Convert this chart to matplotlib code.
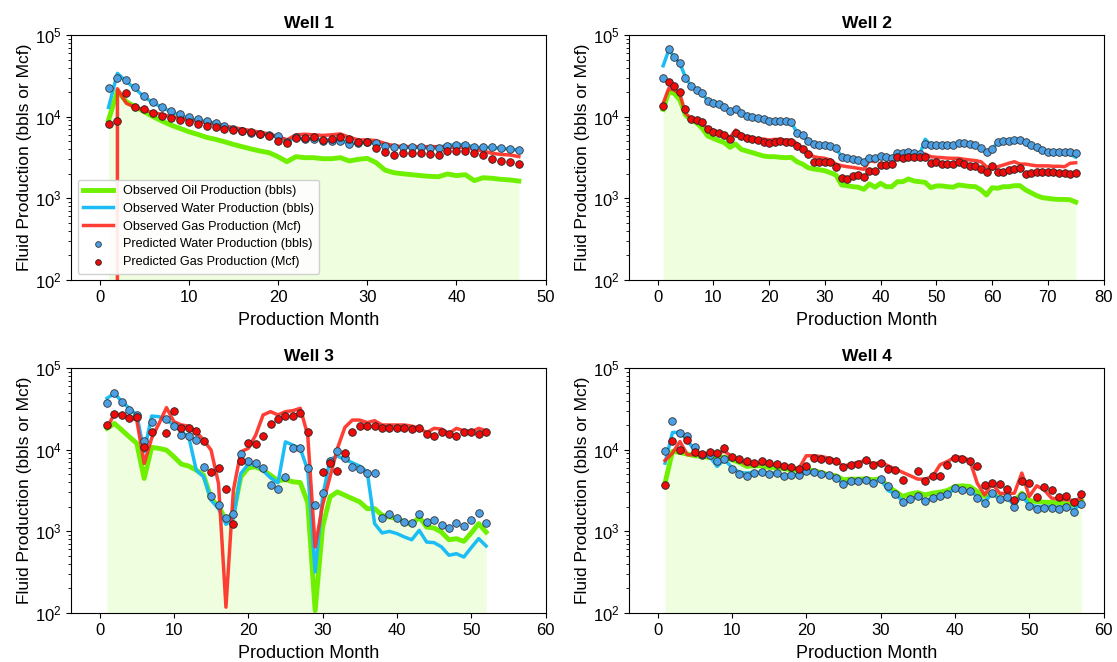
import numpy as np
import matplotlib
matplotlib.use('Agg')
import matplotlib.pyplot as plt

plt.rcParams['font.family'] = ['Liberation Sans', 'DejaVu Sans']
plt.rcParams['mathtext.fontset'] = 'custom'
plt.rcParams['mathtext.rm'] = 'Liberation Sans'
plt.rcParams['mathtext.it'] = 'Liberation Sans:italic'
plt.rcParams['mathtext.bf'] = 'Liberation Sans:bold'

nan = np.nan

# ---- Well 1 ----
w1_oil = [9100, 20600, 15300, 13250, 11500, 10000, 8850, 7900, 7200, 6550,
          6080, 5590, 5280, 4940, 4580, 4290, 4020, 3800, 3630, 3240,
          2810, 3240, 3150, 3150, 3060, 3060, 3150, 2870, 3010, 3090,
          2740, 2220, 2060, 2000, 1950, 1900, 1860, 1840, 1990, 1900,
          1950, 1650, 1790, 1760, 1710, 1680, 1630]
w1_water = [13000, 34000, 27000, 22000, 17500, 14800, 13000, 11500, 10500, 9500,
            9100, 8700, 8300, 7700, 7200, 6900, 6550, 6250, 6000, 5700,
            5200, 5400, 5350, 5350, 5200, 5200, 5100, 4700, 4800, 4800,
            4700, 4500, 4400, 4200, 4200, 4200, 4200, 4200, 4500, 4500,
            4600, 4200, 4200, 4200, 4100, 4000, 3900]
w1_gas = [0, 22000, 14600, 13000, 12100, 11200, 10700, 10000, 9700, 9100,
          8800, 8400, 8100, 7700, 7350, 7050, 6750, 6450, 6150, 5700,
          5200, 6000, 6100, 6000, 5900, 6000, 6150, 5600, 5200, 5200,
          5100, 4700, 4400, 4300, 4300, 4300, 4300, 4300, 4200, 4200,
          4200, 4000, 3800, 3560, 3450, 3400, 3250]
w1_water_pred = [22500, 30000, 28000, 22800, 17700, 15300, 13000, 11800, 10800, 9900,
                 9300, 8900, 8450, 7700, 7100, 6700, 6400, 6150, 5900, 5800,
                 4950, 5600, 5400, 5300, 5100, 5100, 5000, 4600, 4800, 4900,
                 4700, 4400, 4300, 4200, 4200, 4200, 4150, 4150, 4400, 4450,
                 4500, 4200, 4200, 4200, 4100, 4050, 3900]
w1_gas_pred = [8050, 8900, 19300, 13000, 12300, 11000, 10300, 9550, 9100, 8500,
               8100, 7750, 7400, 7050, 6900, 6700, 6450, 6150, 5850, 5000,
               4800, 5500, 5500, 5600, 5200, 5300, 5700, 5350, 4950, 4950,
               4100, 3650, 3400, 3550, 3550, 3550, 3450, 3400, 3850, 3850,
               3800, 3550, 3400, 3050, 2900, 2750, 2600]

# ---- Well 2 ----
w2_oil = [12300, 20200, 19300, 16000, 10500, 9100, 8450, 7200, 5800, 5430,
          5080, 4800, 4210, 4630, 3980, 3800, 3630, 3460, 3300, 3240,
          3240, 3180, 3150, 3180, 2810, 2630, 2370, 2290, 2240, 2180,
          2060, 1930, 1460, 1430, 1390, 1370, 1290, 1500, 1370, 1530,
          1390, 1390, 1600, 1600, 1730, 1630, 1600, 1570, 1350, 1420,
          1420, 1390, 1370, 1460, 1430, 1400, 1390, 1270, 1100, 1350,
          1330, 1390, 1390, 1430, 1430, 1270, 1170, 1080, 1020, 1000,
          980, 970, 970, 960, 900]
w2_water = [42100, 65500, 54300, 45000, 30500, 23700, 21200, 19300, 15700, 14800,
            14200, 13000, 11800, 12600, 11000, 10200, 9800, 9550, 9270, 8930,
            8930, 8930, 8850, 8500, 6400, 5900, 5100, 4700, 4600, 4500,
            4400, 4100, 3250, 3100, 3050, 2950, 2850, 3200, 3100, 3300,
            3250, 3150, 3500, 3500, 3600, 3500, 3400, 5300, 4500, 4500,
            4500, 4450, 4500, 4700, 4700, 4600, 4500, 4100, 3600, 4000,
            4850, 5000, 5050, 5100, 5100, 4700, 4300, 4000, 3700, 3600,
            3550, 3500, 3500, 3450, 3200]
w2_gas = [14600, 22200, 21200, 18900, 11000, 9550, 8930, 8130, 7200, 6740,
          6370, 5960, 5590, 6870, 5960, 5690, 5530, 5330, 5330, 5180,
          5280, 5280, 5180, 5180, 4710, 4090, 3660, 3240, 3150, 3090,
          2950, 2630, 2510, 2440, 2390, 2330, 2270, 2900, 2810, 3240,
          3240, 3180, 3390, 3390, 3460, 3460, 3490, 3490, 3240, 3180,
          3150, 3110, 3090, 3090, 3010, 2950, 2900, 2810, 2440, 2270,
          2440, 2560, 2690, 2810, 2630, 2630, 2560, 2500, 2500, 2500,
          2470, 2470, 2440, 2690, 2730]
w2_water_pred = [29500, 67500, 54300, 45000, 29500, 23700, 21200, 19300, 15700, 14800,
                 14200, 13000, 11800, 12600, 11000, 10200, 9800, 9550, 9270, 8930,
                 8930, 8930, 8850, 8700, 6250, 5960, 5080, 4630, 4540, 4500,
                 4410, 4090, 3240, 3090, 3030, 2950, 2810, 3150, 3090, 3300,
                 3240, 3150, 3560, 3560, 3730, 3630, 3490, 4630, 4500, 4500,
                 4500, 4500, 4500, 4710, 4710, 4630, 4500, 4090, 3660, 4020,
                 4850, 5040, 5080, 5180, 5180, 4850, 4500, 4210, 3910, 3730,
                 3730, 3730, 3730, 3700, 3630]
w2_gas_pred = [13500, 26800, 23700, 20200, 12300, 9270, 9100, 8600, 7000, 6550,
               6250, 5960, 5330, 6250, 5800, 5530, 5330, 5180, 4940, 4800,
               4940, 5040, 4940, 4940, 4380, 3980, 3490, 2810, 2810, 2760,
               2760, 2390, 1780, 1740, 1900, 1930, 1810, 2180, 2180, 2560,
               2560, 2630, 3240, 3150, 3240, 3180, 3180, 3240, 2730, 2810,
               2630, 2610, 2610, 2760, 2610, 2500, 2510, 2270, 2100, 2510,
               2110, 2080, 2220, 2290, 2370, 1970, 2060, 2080, 2100, 2080,
               2080, 2060, 2020, 2000, 2060]

# ---- Well 3 ----
w3_oil = [18300, 21000, 17400, 14400, 12000, 4450, 10700, 10400, 9900, 8200,
          6670, 6300, 5630, 4890, 2520, 2050, 1370, 1650, 4660, 6010,
          6180, 5630, 4890, 4160, 4320, 4050, 3970, 2250, 107, 1130,
          2650, 3050, 2770, 2520, 2300, 1900, 1900, 1580, 1500, 1440,
          1310, 1210, 1500, 1130, 1100, 980, 790, 815, 755, 957,
          1245, 980]
w3_water = [42700, 49200, 38800, 32200, 26700, 9450, 25900, 25400, 23100, 20100,
            16600, 14400, 5630, 4660, 2410, 1900, 1220, 1440, 5120, 6670,
            6480, 5530, 4530, 3940, 12500, 11400, 10400, 5630, 318, 2650,
            7610, 8370, 7610, 6920, 6300, 5370, 1245, 957, 1000, 940,
            855, 790, 1030, 740, 728, 645, 510, 533, 485, 632,
            815, 662]
w3_gas = [18800, 27400, 26700, 24700, 23100, 6800, 13800, 21000, 32800, 22100,
          20100, 19500, 16600, 13100, 9900, 3870, 118, 3200, 9450, 10400,
          15100, 26700, 29300, 26700, 29300, 30100, 32200, 15100, 645, 2090,
          4660, 10400, 18800, 23100, 23100, 21500, 22700, 20100, 20100, 20100,
          20100, 19500, 18300, 16200, 18300, 17900, 15800, 18300, 17100, 16600,
          18300, 17100]
w3_water_pred = [37700, 49200, 38400, 30700, 26700, 12900, 22100, nan, 23800, 19500,
                 15100, 14900, 13100, 6070, 2720, 2090, 1460, 1620, 8850, 7330,
                 6800, 6010, 3680, 3350, 4660, 10400, 10600, 6010, 2090, 2990,
                 7330, 9720, 7980, 6180, 5730, 5120, 5220, 1475, 1650, 1460,
                 1310, 1280, 1650, 1310, 1370, 1190, 1100, 1270, 1170, 1390,
                 1680, 1280]
w3_gas_pred = [19900, 27200, 26400, 24500, 25000, 10700, 16300, nan, 15900, 29900,
               18600, 18600, 17100, 12900, 5270, 5900, 3260, 1245, 7330, 12000,
               11600, 14700, 20500, 23600, 25900, 25900, 27900, 16600, nan, 5270,
               6920, 5530, 9190, 16600, 19700, 19500, 19500, 18600, 18300, 18300,
               18300, 17800, 18300, 15400, 14700, 16600, 15600, 14700, 16600, 16300,
               15400, 16600]

# ---- Well 4 ----
w4_oil = [3900, 9550, 9270, 8850, 8440, 8280, 8050, 8130, 8130, 7540,
          7000, 6250, 6370, 6370, 6070, 6070, 5850, 5690, 5580, 5790,
          5520, 5270, 4930, 4800, 4290, 4370, 4370, 4410, 4290, 4410,
          3550, 3080, 2680, 2880, 2990, 2800, 2940, 3030, 3170, 3550,
          3620, 3550, 3080, 2680, 2990, 2550, 2550, 2320, 2940, 2390,
          2320, 2280, 2260, 2220, 2170, 2110, 2440]
w4_water = [6860, 16300, 16300, 13300, 9550, 8690, 8280, 6250, 7540, 6070,
            5270, 5180, 5270, 5270, 5180, 5180, 4710, 4930, 4930, 5320,
            5180, 5080, 4840, 4490, 3830, 4090, 4090, 4290, 3970, 4370,
            3170, 2880, 2320, 2480, 2680, 2390, 2550, 2730, 2880, 3320,
            3230, 3140, 2680, 2280, 2940, 2480, 2550, 2110, 2730, 2110,
            2020, 2020, 2020, 1980, 2020, 1840, 2220]
w4_gas = [7400, 9100, 12600, 8690, 8690, 8690, 9100, 9100, 9550, 8280,
          7400, 6550, 6720, 6720, 6720, 6370, 6070, 5960, 5850, 8440,
          8440, 8280, 7900, 7400, 6250, 6720, 7000, 7400, 6720, 7000,
          6370, 5790, 5270, 4800, 4370, 4370, 4710, 6550, 7190, 8130,
          8130, 7400, 3900, 2800, 3900, 2940, 2880, 2940, 5180, 2680,
          3620, 3230, 2550, 2480, 2440, 2390, 2550]
w4_water_pred = [9730, 22700, 16000, 14600, 10800, 8690, 8690, 7330, 7680, 5850,
                 5080, 4800, 5180, 5320, 5080, 5180, 4710, 4930, 4930, 5420,
                 5270, 5080, 4840, 4490, 3790, 4090, 4090, 4290, 3970, 4370,
                 3550, 2880, 2280, 2500, 2680, 2370, 2600, 2730, 2880, 3390,
                 3230, 3140, 2550, 2220, 2990, 2480, 2630, 1980, 2730, 2020,
                 1890, 1960, 1960, 1870, 1980, 1750, 2170]
w4_gas_pred = [3650, 12900, 10000, 13000, 9360, 8850, 9360, 9100, 10500, 8050,
               7760, 7190, 6860, 7190, 6860, 6670, 6370, 6130, 5850, 6250,
               7900, 7760, 7400, 7330, 6070, 6420, 6720, 7400, 6420, 6860,
               5850, 5690, 4290, nan, 5520, 4090, 4710, 4800, 6550, 7900,
               7760, 7330, 6370, 3650, 3970, 3790, 3320, 2390, 4170, 3900,
               2630, 3450, 3230, 2630, 2750, 2280, 2860]

wells = ['Well 1', 'Well 2', 'Well 3', 'Well 4']
oil = [w1_oil, w2_oil, w3_oil, w4_oil]
water = [w1_water, w2_water, w3_water, w4_water]
gas = [w1_gas, w2_gas, w3_gas, w4_gas]
water_pred = [w1_water_pred, w2_water_pred, w3_water_pred, w4_water_pred]
gas_pred = [w1_gas_pred, w2_gas_pred, w3_gas_pred, w4_gas_pred]
x_max = [50, 80, 60, 60]

fig, axes = plt.subplots(2, 2, figsize=(11.17, 6.62), dpi=100)
fig.subplots_adjust(left=0.064, right=0.988, top=0.947, bottom=0.074,
                    wspace=0.177, hspace=0.36)

for i, ax in enumerate(axes.flat):
    months = np.arange(1, len(oil[i]) + 1)
    ax.fill_between(months, oil[i], 0.01, color='#7CFC00', alpha=0.13, linewidth=0)
    ax.plot(months, oil[i], color='#6EF000', lw=3.5, label='Observed Oil Production (bbls)')
    ax.plot(months, water[i], color='#1CBDF5', lw=2.5, label='Observed Water Production (bbls)')
    ax.plot(months, gas[i], color='#FF2A20', lw=2.5, alpha=0.9, label='Observed Gas Production (Mcf)')
    ax.scatter(months, water_pred[i], s=30, color='#4A9FE5', edgecolor='#333333',
               linewidth=0.6, zorder=3, label='Predicted Water Production (bbls)')
    ax.scatter(months, gas_pred[i], s=30, color='#F00A0A', edgecolor='#222222',
               linewidth=0.6, zorder=3, label='Predicted Gas Production (Mcf)')

    ax.set_yscale('log')
    ax.set_ylim(1e2, 1e5)
    ax.set_xlim(-0.063 * x_max[i], x_max[i])
    ax.set_xticks(np.arange(0, x_max[i] + 1, 10))
    ax.set_title(wells[i], fontsize=12.5, fontweight='bold', pad=5)
    ax.set_xlabel('Production Month', fontsize=13, labelpad=5)
    ax.set_ylabel('Fluid Production (bbls or Mcf)', fontsize=12.5, labelpad=2)
    ax.tick_params(labelsize=12)

    if i == 0:
        ax.legend(loc='lower left', fontsize=9.1, markerscale=0.75,
                  handlelength=2.3, borderpad=0.45, labelspacing=0.45,
                  framealpha=0.9)

plt.savefig('out.png', dpi=100, facecolor='white')
plt.close()
